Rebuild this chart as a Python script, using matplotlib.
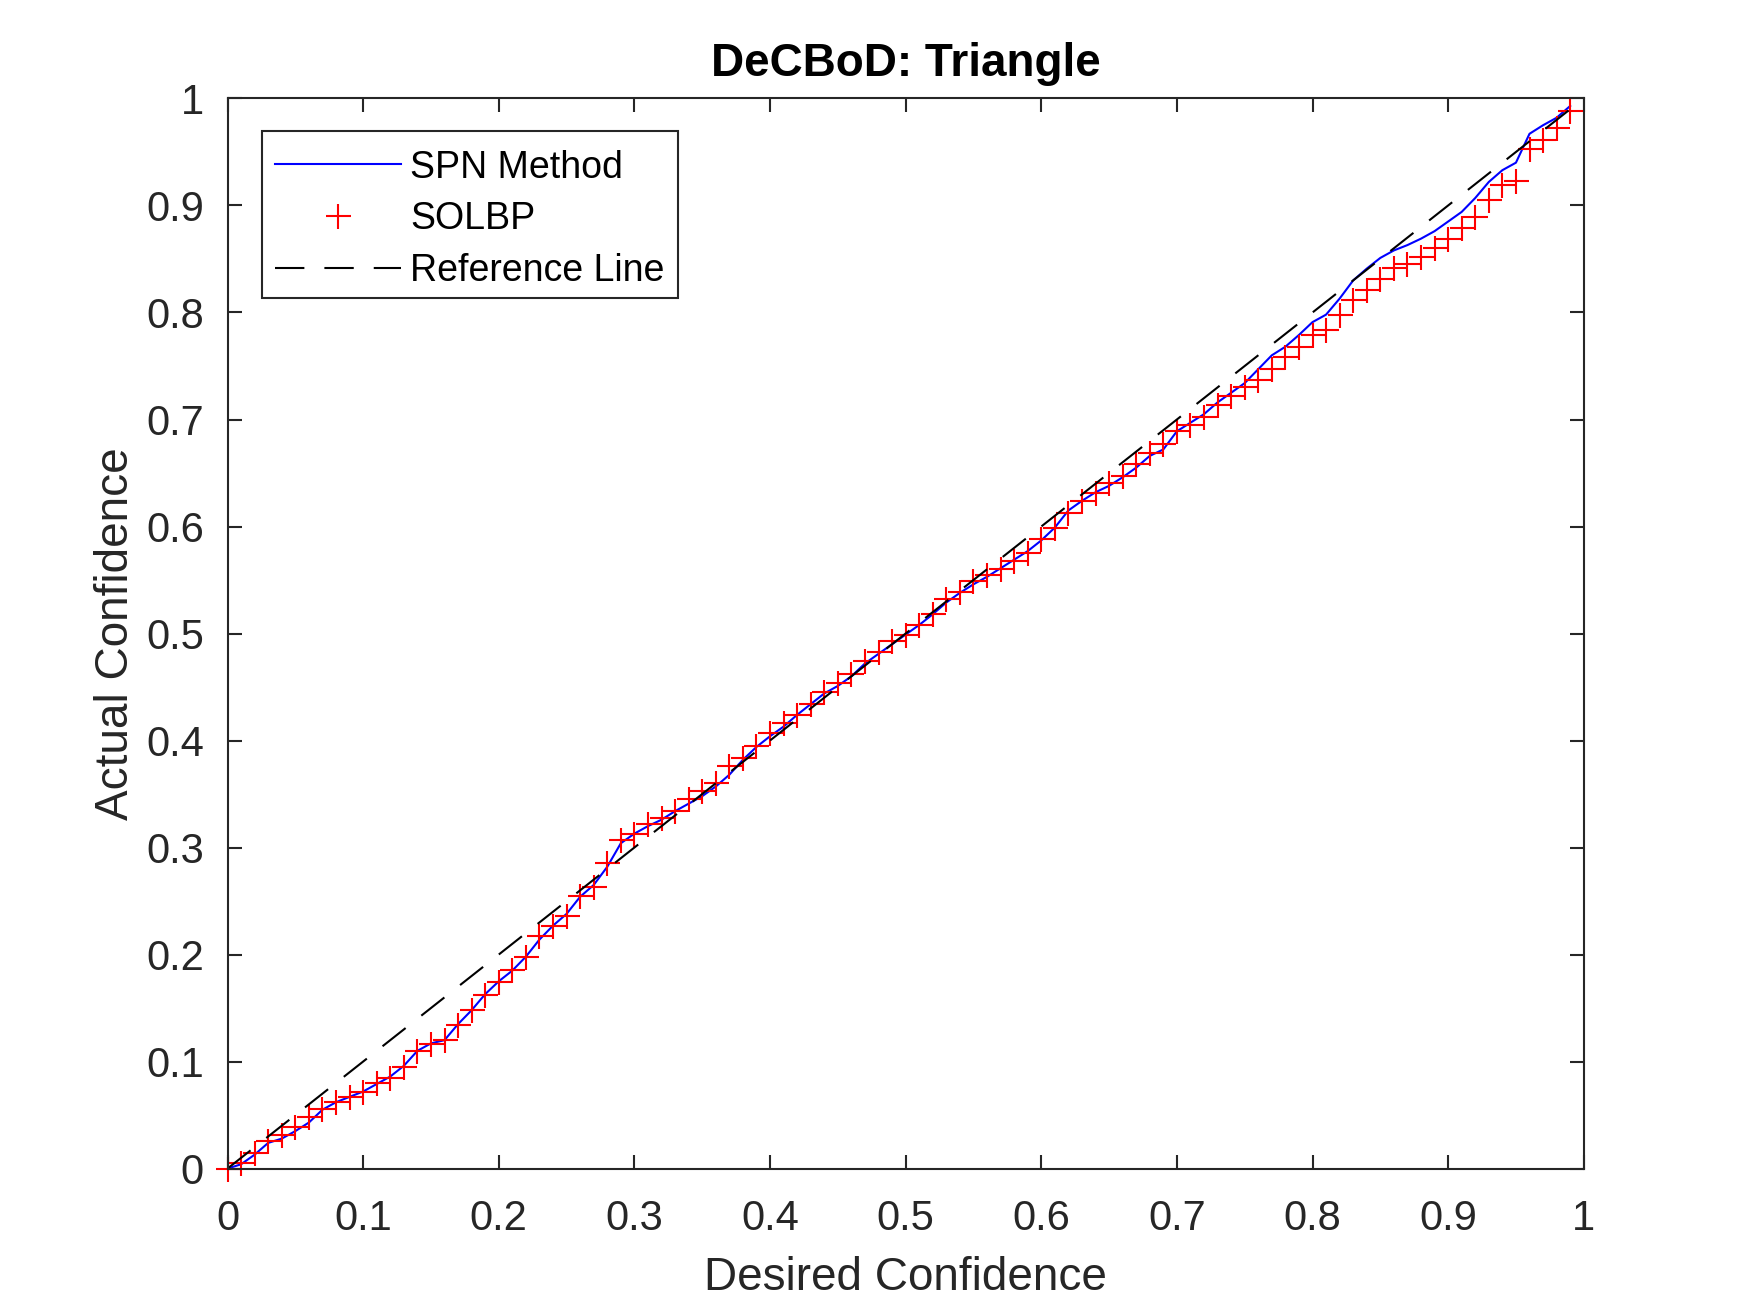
import matplotlib
matplotlib.use("Agg")
import matplotlib.pyplot as plt
from matplotlib.transforms import ScaledTranslation

# ---- data ----
desired = [i / 100 for i in range(100)]  # 0.00 ... 0.99

spn_method = [
    0.000, 0.004, 0.013, 0.024, 0.028, 0.035, 0.043, 0.055, 0.062, 0.067,
    0.072, 0.079, 0.086, 0.096, 0.110, 0.117, 0.120, 0.135, 0.148, 0.163,
    0.175, 0.185, 0.198, 0.214, 0.227, 0.238, 0.254, 0.265, 0.282, 0.304,
    0.313, 0.320, 0.326, 0.334, 0.341, 0.348, 0.357, 0.368, 0.382, 0.394,
    0.404, 0.413, 0.424, 0.434, 0.444, 0.451, 0.460, 0.472, 0.481, 0.490,
    0.499, 0.508, 0.518, 0.529, 0.538, 0.546, 0.553, 0.561, 0.569, 0.577,
    0.587, 0.599, 0.615, 0.624, 0.632, 0.638, 0.646, 0.655, 0.666, 0.672,
    0.689, 0.697, 0.705, 0.716, 0.725, 0.734, 0.747, 0.760, 0.768, 0.779,
    0.791, 0.798, 0.813, 0.830, 0.841, 0.851, 0.858, 0.863, 0.869, 0.876,
    0.885, 0.894, 0.907, 0.922, 0.933, 0.940, 0.967, 0.975, 0.982, 0.993,
]

solbp = [
    0.000, 0.005, 0.015, 0.026, 0.031, 0.039, 0.048, 0.056, 0.062, 0.067,
    0.072, 0.080, 0.085, 0.095, 0.110, 0.116, 0.120, 0.134, 0.148, 0.162,
    0.174, 0.186, 0.198, 0.217, 0.227, 0.236, 0.255, 0.263, 0.286, 0.307,
    0.313, 0.322, 0.328, 0.334, 0.345, 0.353, 0.360, 0.376, 0.384, 0.395,
    0.407, 0.416, 0.424, 0.434, 0.445, 0.454, 0.462, 0.474, 0.483, 0.493,
    0.499, 0.508, 0.518, 0.532, 0.539, 0.549, 0.555, 0.560, 0.568, 0.575,
    0.588, 0.599, 0.613, 0.624, 0.631, 0.641, 0.647, 0.658, 0.669, 0.677,
    0.689, 0.695, 0.702, 0.714, 0.722, 0.730, 0.737, 0.747, 0.758, 0.768,
    0.779, 0.784, 0.798, 0.812, 0.821, 0.831, 0.842, 0.845, 0.852, 0.860,
    0.869, 0.879, 0.889, 0.905, 0.919, 0.923, 0.953, 0.961, 0.972, 0.988,
]

reference = desired

tick_values = [i / 10 for i in range(11)]
tick_labels = ["0", "0.1", "0.2", "0.3", "0.4", "0.5", "0.6", "0.7", "0.8", "0.9", "1"]

title = "DeCBoD: Triangle"
xlabel = "Desired Confidence"
ylabel = "Actual Confidence"
series_names = ["SPN Method", "SOLBP", "Reference Line"]

# ---- style ----
plt.rcParams["font.family"] = ["Liberation Sans", "DejaVu Sans"]
dark = "#262626"

fig = plt.figure(figsize=(17.5, 13.13), dpi=100)
ax = fig.add_axes([0.13, 0.11, 0.775, 0.815])

ax.plot(desired, spn_method, color=(0, 0, 1), lw=1.5, label=series_names[0])
ax.plot(desired, solbp, linestyle="none", marker="+", markersize=18,
        markeredgewidth=1.5, color=(1, 0, 0), clip_on=False, label=series_names[1])
ax.plot(desired, reference, color="black", lw=1.5,
        linestyle=(0, (14.1, 9.6)), label=series_names[2])

ax.set_xlim(0, 1)
ax.set_ylim(0, 1)
ax.set_xticks(tick_values)
ax.set_xticklabels(tick_labels)
ax.set_yticks(tick_values)
ax.set_yticklabels(tick_labels)

for s in ax.spines.values():
    s.set_color(dark)
    s.set_linewidth(1.5)

ax.tick_params(axis="both", which="major", direction="in", length=10, width=1.5,
               color=dark, labelcolor=dark, labelsize=30,
               top=True, right=True)
ax.tick_params(axis="x", pad=22)
ax.tick_params(axis="y", pad=17)

ax.set_title(title, fontsize=33, fontweight="bold", color="black", pad=16)
ax.set_xlabel(xlabel, fontsize=33, color=dark)
ax.set_ylabel(ylabel, fontsize=33, color=dark)
ax.xaxis.set_label_coords(0.5, -0.082)
ax.yaxis.set_label_coords(-0.066, 0.5)

leg = ax.legend(loc="upper left", bbox_to_anchor=(0.0254, 0.9696),
                borderaxespad=0, fontsize=27, frameon=True, fancybox=False,
                framealpha=1, edgecolor=dark, borderpad=0.36,
                labelspacing=0.42, handlelength=3.35, handletextpad=0.25)
leg.get_frame().set_linewidth(1.5)

# content of the legend sits slightly lower in its frame in the reference
shift = ScaledTranslation(0, -5.0 / 100, fig.dpi_scale_trans)
for t in leg.get_texts():
    t.set_color("black")
    t.set_transform(t.get_transform() + shift)
for h in leg.legend_handles:
    h.set_transform(h.get_transform() + shift)

fig.savefig("out.png", dpi=100)
